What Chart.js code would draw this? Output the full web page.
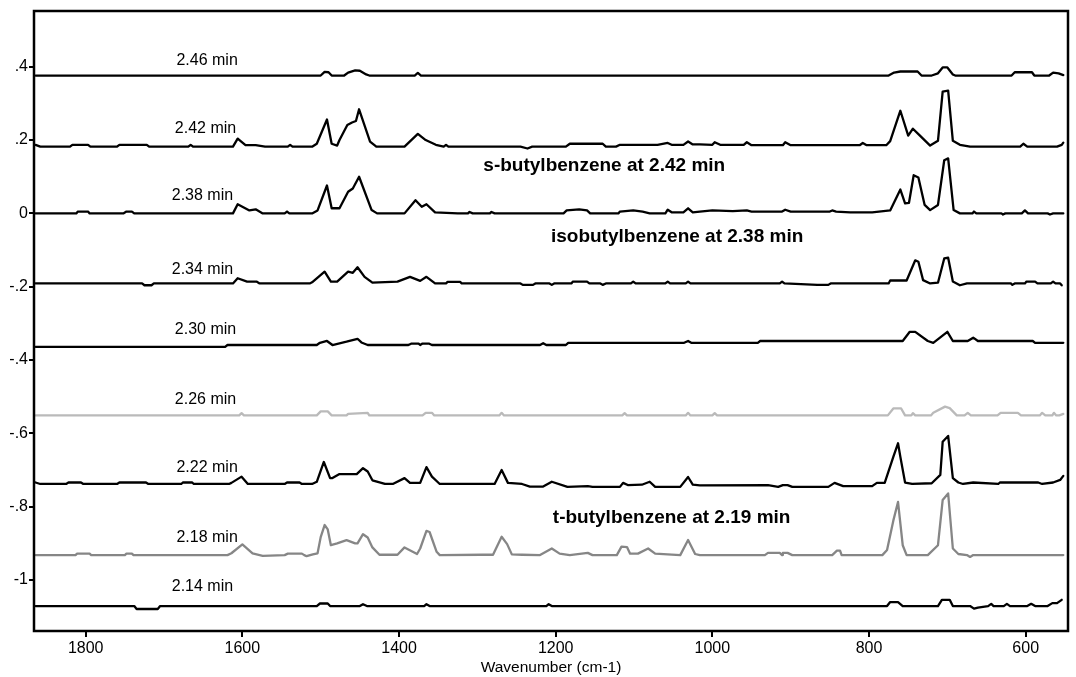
<!DOCTYPE html>
<html>
<head>
<meta charset="utf-8">
<script src="https://cdn.jsdelivr.net/npm/chart.js@4.4.1/dist/chart.umd.min.js"></script>
<style>
html, body { margin: 0; padding: 0; background: #fff; }
</style>
</head>
<body>
<canvas id="spectra" width="1076" height="677"></canvas>
<script>
// retention times of the stacked spectra (top to bottom)
const times = ['2.46 min', '2.42 min', '2.38 min', '2.34 min', '2.30 min', '2.26 min', '2.22 min', '2.18 min', '2.14 min'];
// vertical offset of each trace
const offsets = [0.376, 0.182, 0, -0.191, -0.364, -0.551, -0.738, -0.932, -1.071];

// [wavenumber, absorbance above the trace's offset]
const t246 = [[1864,0],[1500,0],[1495,.010],[1490,.009],[1486,0],[1470,0],[1465,.008],[1456,.014],[1450,.013],[1442,.003],[1438,0],[1380,0],[1376,.007],[1372,0],
  [775,0],[768,.008],[760,.011],[738,.011],[733,0],[720,0],[712,.006],[706,.022],[700,.022],[693,.003],[690,0],[618,0],[614,.009],[592,.009],[589,0],[570,0],[565,.008],[558,.006],[552,.001]];

const t242 = [[1864,.005],[1858,0],[1820,0],[1817,.005],[1797,.005],[1794,0],[1760,0],[1757,.005],[1722,.005],[1719,0],[1669,0],[1666,.005],[1663,0],
  [1612,0],[1606,.022],[1596,.004],[1583,.004],[1571,0],[1542,0],[1539,.005],[1536,0],[1511,0],[1505,.008],[1492,.074],[1486,.008],[1479,.003],
  [1476,.018],[1466,.059],[1460,.066],[1455,.070],[1451,.102],[1437,.014],[1429,0],[1393,0],[1376,.035],[1366,.018],[1353,.005],[1343,0],[1340,.005],[1337,0],
  [1245,0],[1236,-.005],[1230,0],[1187,0],[1182,.008],[1140,.008],[1136,0],[1123,0],[1118,.005],[1070,.005],[1057,.010],[1052,.005],[1037,.005],[1031,.014],
  [1025,.006],[1016,.006],[1000,.005],[997,.012],[990,.005],[960,.005],[956,.012],[950,.004],[910,.004],[907,.012],[900,.004],[812,.004],[808,.010],[803,.004],
  [778,.004],[773,.015],[760,.098],[750,.030],[744,.049],[735,.030],[722,.003],[712,.016],[706,.150],[699,.153],[693,.016],[684,.005],[671,0],
  [607,0],[603,.008],[598,0],[560,0],[554,.005],[552,.011]];

const t238 = [[1864,0],[1812,0],[1810,.005],[1797,.005],[1795,0],[1752,0],[1748,.005],[1741,.005],[1738,0],[1612,0],[1606,.025],[1591,.008],[1583,.011],[1574,0],
  [1546,0],[1543,.005],[1540,0],[1511,0],[1504,.008],[1492,.076],[1486,.014],[1476,.014],[1465,.059],[1459,.068],[1451,.100],[1435,.009],[1428,0],
  [1393,0],[1379,.036],[1371,.018],[1365,.025],[1354,.003],[1325,0],[1312,0],[1310,.004],[1306,0],[1284,0],[1282,.004],[1278,0],
  [1190,0],[1186,.008],[1170,.011],[1160,.008],[1156,0],[1120,0],[1118,.005],[1101,.008],[1089,.005],[1080,0],[1060,0],[1057,.010],[1052,.003],
  [1037,.003],[1031,.014],[1025,.003],[1016,.005],[1000,.008],[974,.006],[956,.008],[950,.005],[911,.005],[907,.010],[900,.005],[850,.005],[847,.008],
  [842,.005],[824,.003],[796,.003],[773,.008],[760,.065],[754,.027],[749,.029],[743,.104],[737,.098],[729,.023],[722,.009],[712,.023],[704,.145],
  [699,.150],[692,.009],[684,0],[668,0],[666,.005],[663,0],[631,0],[629,-.003],[626,0],[605,0],[601,.008],[597,0],[572,0],[569,-.003],[565,0],[552,0]];

const t234 = [[1864,0],[1728,0],[1725,-.005],[1716,-.005],[1713,0],[1612,0],[1606,.014],[1594,.005],[1582,.005],[1578,0],[1514,0],[1511,.003],
  [1495,.032],[1487,.005],[1479,.005],[1465,.032],[1459,.029],[1453,.044],[1444,.018],[1434,.002],[1402,.005],[1386,.018],[1373,.007],[1365,.018],
  [1354,0],[1340,0],[1338,.004],[1322,.004],[1320,0],[1245,0],[1242,-.004],[1229,-.004],[1226,0],[1208,0],[1205,-.004],[1202,0],[1180,0],[1178,.005],
  [1160,.005],[1157,0],[1143,0],[1140,-.004],[1136,0],[1104,0],[1101,.005],[1098,0],[1060,0],[1057,.005],[1054,0],[1034,0],[1031,.005],[1028,0],
  [914,0],[911,.005],[908,0],[866,-.004],[852,-.004],[849,0],[775,0],[773,.008],[752,.008],[741,.063],[737,.059],[731,.009],[722,0],[712,.002],
  [704,.068],[699,.070],[693,.005],[684,-.005],[675,0],[619,0],[617,-.004],[614,0],[601,0],[599,.005],[588,.005],[585,0],[568,0],[565,.005],
  [562,0],[556,0],[554,-.005]];

const t230 = [[1864,0],[1622,0],[1619,.005],[1505,.005],[1501,.011],[1492,.016],[1485,.005],[1467,.014],[1453,.022],[1448,.012],[1440,.005],
  [1388,.005],[1384,.009],[1375,.009],[1373,.005],[1370,.009],[1362,.009],[1358,.005],[1220,.005],[1216,.010],[1212,.005],[1187,.005],[1184,.011],
  [1036,.011],[1031,.016],[1027,.011],[942,.011],[939,.016],[757,.016],[748,.041],[741,.041],[725,.016],[718,.011],[709,.026],[700,.041],[693,.016],
  [674,.016],[667,.025],[661,.016],[591,.016],[588,.011],[552,.011]];

const t226 = [[1864,0],[1604,0],[1601,.006],[1598,0],[1505,0],[1500,.011],[1491,.011],[1486,0],[1467,0],[1465,.004],[1440,.007],[1438,0],
  [1370,0],[1366,.007],[1358,.007],[1355,0],[1272,0],[1269,.007],[1266,0],[1115,0],[1112,.006],[1109,0],[1034,0],[1031,.007],[1028,0],
  [1000,0],[997,.006],[994,0],[776,0],[769,.019],[759,.019],[754,0],[746,0],[744,.006],[741,0],[721,0],[718,.007],[703,.024],[697,.020],[688,0],
  [678,0],[674,.007],[670,0],[636,0],[632,.007],[610,.007],[606,0],[582,0],[579,.007],[575,0],[566,0],[564,.007],[561,0],[557,0],[552,.004]];

const t222 = [[1864,.004],[1858,0],[1825,0],[1822,.004],[1806,.004],[1803,0],[1760,0],[1757,.004],[1723,.004],[1720,0],[1678,0],[1676,.004],
  [1664,.004],[1662,0],[1617,0],[1614,.003],[1601,.020],[1593,0],[1546,0],[1543,.004],[1527,.004],[1524,0],[1511,0],[1505,.006],[1496,.060],
  [1488,.016],[1485,.016],[1476,.027],[1454,.027],[1446,.043],[1440,.034],[1434,.010],[1418,0],[1408,0],[1393,.016],[1386,.003],[1373,.003],
  [1365,.046],[1358,.020],[1348,0],[1278,0],[1269,.038],[1261,.003],[1243,0],[1233,-.007],[1216,-.007],[1205,.006],[1185,-.008],[1159,-.006],
  [1153,-.008],[1118,-.008],[1114,.003],[1108,-.003],[1090,-.002],[1080,.006],[1073,-.008],[1041,-.008],[1031,.019],[1025,-.002],[1016,-.004],
  [929,-.003],[916,-.008],[910,-.003],[904,-.003],[898,-.008],[852,-.008],[844,.003],[833,-.006],[796,-.006],[790,.003],[780,.003],[769,.074],
  [763,.111],[760,.074],[754,.004],[745,0],[720,.002],[709,.025],[706,.115],[699,.131],[693,.016],[686,.004],[680,0],[667,.004],[635,0],[633,.004],
  [584,.004],[579,0],[565,.004],[556,.011],[552,.022]];

const t218 = [[1864,0],[1813,0],[1811,.004],[1795,.004],[1793,0],[1750,0],[1748,.004],[1741,.004],[1739,0],[1619,0],[1614,.005],[1600,.029],
  [1587,.005],[1574,-.002],[1546,0],[1542,.004],[1524,.004],[1521,0],[1518,-.003],[1510,.002],[1504,.005],[1500,.049],[1495,.082],[1491,.070],
  [1487,.027],[1479,.032],[1467,.041],[1456,.032],[1453,.032],[1446,.057],[1440,.048],[1434,.021],[1425,.001],[1402,.001],[1393,.021],[1377,.003],
  [1373,.018],[1365,.066],[1361,.063],[1352,.009],[1348,0],[1294,.001],[1280,.001],[1269,.050],[1262,.030],[1256,.002],[1243,.001],[1220,0],
  [1205,.018],[1195,.004],[1182,0],[1159,.006],[1153,0],[1122,0],[1116,.023],[1109,.022],[1105,.004],[1095,.004],[1082,.018],[1073,.004],
  [1041,0],[1031,.041],[1022,.003],[1016,0],[933,0],[929,.006],[914,.006],[911,0],[910,.006],[904,.006],[898,0],[847,0],[841,.012],[837,.012],
  [835,0],[783,0],[777,.014],[769,.094],[763,.145],[757,.027],[752,0],[725,0],[712,.027],[706,.150],[699,.168],[693,.018],[686,.003],[675,0],
  [671,-.005],[667,0],[552,0]];

const t214 = [[1864,0],[1738,0],[1735,-.008],[1708,-.008],[1705,0],[1505,0],[1501,.007],[1491,.007],[1488,0],[1450,0],[1446,.005],[1441,0],
  [1368,0],[1365,.005],[1361,0],[1212,0],[1209,.005],[1205,0],[777,0],[773,.011],[763,.011],[757,0],[712,0],[707,.017],[697,.017],[693,0],
  [671,0],[666,-.007],[661,-.004],[648,0],[644,.006],[641,0],[628,0],[624,.006],[620,0],[598,0],[593,.006],[588,0],[572,0],[566,.008],
  [560,.008],[554,.017]];

const traces = [t246, t242, t238, t234, t230, t226, t222, t218, t214];

const xTicks = [1800, 1600, 1400, 1200, 1000, 800, 600];
const yTicks = [-1, -0.8, -0.6, -0.4, -0.2, 0, 0.2, 0.4];

// line colours, all black except two grey runs
const colors = ['#000', '#000', '#000', '#000', '#000', '#bababa', '#000', '#868686', '#000'];

// text placed on the plot, in data coordinates
const timeLabelPos = [[1645, .418], [1647, .232], [1651, .048], [1651, -.153], [1647, -.318], [1647, -.509], [1645, -.693], [1645, -.884], [1651, -1.019]];
const notes = [
  { text: 's-butylbenzene at 2.42 min', x: 1138, y: .129 },
  { text: 'isobutylbenzene at 2.38 min', x: 1045, y: -.064 },
  { text: 't-butylbenzene at 2.19 min', x: 1052, y: -.829 }
];

const FONT = '"Liberation Sans", Arial, Helvetica, sans-serif';

const datasets = traces.map((pts, i) => ({
    label: times[i],
    data: pts.map(p => ({ x: p[0], y: offsets[i] + p[1] })),
    borderColor: colors[i],
    borderWidth: 2.3,
    pointRadius: 0,
    tension: 0,
    fill: false,
    borderJoinStyle: 'round',
    borderCapStyle: 'round'
}));

const frameAndText = {
    id: 'frameAndText',
    afterDatasetsDraw(chart) {
        const { ctx, chartArea: a, scales } = chart;
        ctx.save();
        ctx.strokeStyle = '#000';
        ctx.lineWidth = 2.5;
        ctx.strokeRect(a.left, a.top, a.right - a.left, a.bottom - a.top);

        ctx.fillStyle = '#000';
        ctx.textAlign = 'center';
        ctx.textBaseline = 'middle';
        ctx.font = '16px ' + FONT;
        times.forEach((t, i) => {
            const p = timeLabelPos[i];
            ctx.fillText(t, scales.x.getPixelForValue(p[0]), scales.y.getPixelForValue(p[1]));
        });
        ctx.font = 'bold 19px ' + FONT;
        notes.forEach(n => {
            ctx.fillText(n.text, scales.x.getPixelForValue(n.x), scales.y.getPixelForValue(n.y));
        });
        ctx.restore();
    }
};

const ctx = document.getElementById('spectra');
const spectraChart = new Chart(ctx, {
    type: 'line',
    data: { datasets: datasets },
    plugins: [frameAndText],
    options: {
        responsive: false,
        animation: false,
        devicePixelRatio: 1,
        layout: { padding: { top: 11, right: 8, left: 0, bottom: 0 } },
        plugins: { legend: { display: false }, tooltip: { enabled: false } },
        scales: {
            x: {
                type: 'linear',
                reverse: true,
                min: 546,
                max: 1866,
                bounds: 'data',
                afterBuildTicks: s => { s.ticks = xTicks.map(v => ({ value: v })); },
                afterFit: s => { s.height = 46; },
                border: { display: false },
                grid: { drawOnChartArea: false, drawTicks: true, tickLength: 6, color: '#000', lineWidth: 2 },
                ticks: { color: '#000', font: { family: FONT, size: 16 }, padding: 2, maxRotation: 0, autoSkip: false, callback: v => String(v) },
                title: { display: true, text: 'Wavenumber (cm-1)', color: '#000', font: { family: FONT, size: 15.5 }, padding: { top: 0, bottom: 0 } }
            },
            y: {
                type: 'linear',
                min: -1.139,
                max: 0.552,
                bounds: 'data',
                afterBuildTicks: s => { s.ticks = yTicks.map(v => ({ value: v })); },
                afterFit: s => { s.width = 34; },
                border: { display: false },
                grid: { drawOnChartArea: false, drawTicks: true, tickLength: 5, color: '#000', lineWidth: 2 },
                ticks: {
                    color: '#000', font: { family: FONT, size: 16 }, padding: 1, autoSkip: false,
                    callback: v => v === 0 ? '0' : String(Math.round(v * 10) / 10).replace('0.', '.')
                }
            }
        }
    }
});
</script>
</body>
</html>
